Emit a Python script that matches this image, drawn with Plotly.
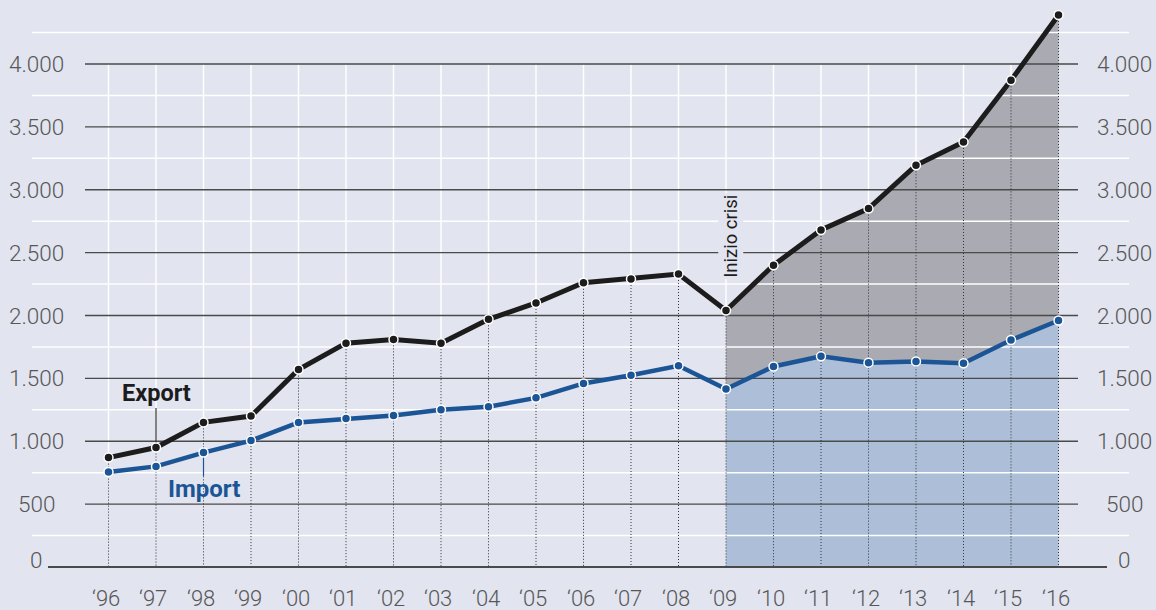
import plotly.graph_objects as go

# ---- data ----
years = list(range(1996, 2017))
year_labels = ["\u2018" + str(y)[2:] for y in years]
export_vals = [870, 950, 1150, 1200, 1570, 1780, 1810, 1780, 1970, 2100, 2260, 2290, 2330,
               2040, 2400, 2680, 2850, 3195, 3380, 3870, 4390]
import_vals = [755, 800, 910, 1005, 1150, 1180, 1205, 1250, 1275, 1345, 1460, 1525, 1600,
               1415, 1595, 1675, 1625, 1635, 1620, 1805, 1960]
major_ticks = [0, 500, 1000, 1500, 2000, 2500, 3000, 3500, 4000]
tick_labels = ["0", "500", "1.000", "1.500", "2.000", "2.500", "3.000", "3.500", "4.000"]
minor_ticks = [250, 750, 1250, 1750, 2250, 2750, 3250, 3750, 4250]
crisis_year = 2009

# ---- layout constants ----
W, H = 1156, 610
X0_PX, STEP_PX = 108.5, 47.5          # pixel of first year, pixels per year
Y0_PX, PX_PER_UNIT = 567, 0.12575     # pixel of y=0, pixels per unit


def xd(px):
    return years[0] + (px - X0_PX) / STEP_PX


def yd(py):
    return (Y0_PX - py) / PX_PER_UNIT


BG = "#e2e4ef"
BLACK = "#1c1c1c"
BLUE = "#1b5596"
GRAY_FILL = "#a9aab2"
BLUE_FILL = "#adbfd8"
TICK_GRAY = "#575757"
FONT = "Roboto"

fig = go.Figure()

# fills from crisis year on
ci = years.index(crisis_year)
fig.add_trace(go.Scatter(x=years[ci:], y=import_vals[ci:], mode="lines", line=dict(width=0),
                         fill="tozeroy", fillcolor=BLUE_FILL, hoverinfo="skip", showlegend=False))
fig.add_trace(go.Scatter(x=years[ci:], y=export_vals[ci:], mode="lines", line=dict(width=0),
                         fill="tonexty", fillcolor=GRAY_FILL, hoverinfo="skip", showlegend=False))

# minor white gridlines
gx, gy = [], []
for v in minor_ticks:
    gx += [xd(32), xd(1129), None]
    gy += [v, v, None]
fig.add_trace(go.Scatter(x=gx, y=gy, mode="lines", line=dict(color="white", width=1.5),
                         hoverinfo="skip", showlegend=False))

# white verticals above the export line
vx, vy = [], []
for yr, e in zip(years, export_vals):
    if e < major_ticks[-1]:
        vx += [yr, yr, None]
        vy += [major_ticks[-1], e, None]
fig.add_trace(go.Scatter(x=vx, y=vy, mode="lines", line=dict(color="white", width=1.5),
                         hoverinfo="skip", showlegend=False))

# major dark gridlines
mx, my = [], []
for v in major_ticks[1:]:
    mx += [xd(85), xd(1078), None]
    my += [v, v, None]
fig.add_trace(go.Scatter(x=mx, y=my, mode="lines", line=dict(color="#4a4a4a", width=1.3),
                         hoverinfo="skip", showlegend=False))

# dotted verticals below the export line
dx, dy = [], []
for yr, e in zip(years, export_vals):
    dx += [yr, yr, None]
    dy += [e, 0, None]
fig.add_trace(go.Scatter(x=dx, y=dy, mode="lines",
                         line=dict(color="#333333", width=1, dash="1px,2px"),
                         hoverinfo="skip", showlegend=False))

# zero baseline
fig.add_trace(go.Scatter(x=[xd(48), xd(1107)], y=[0, 0], mode="lines",
                         line=dict(color="#4a4a4a", width=2), hoverinfo="skip", showlegend=False))

# label connector lines
fig.add_trace(go.Scatter(x=[1997, 1997], y=[export_vals[1], yd(408)], mode="lines",
                         line=dict(color="#333333", width=1.2), hoverinfo="skip", showlegend=False))
fig.add_trace(go.Scatter(x=[1998, 1998], y=[import_vals[2], yd(476)], mode="lines",
                         line=dict(color=BLUE, width=1.2), hoverinfo="skip", showlegend=False))

# data lines
fig.add_trace(go.Scatter(x=years, y=import_vals, mode="lines+markers", name="Import",
                         line=dict(color=BLUE, width=4.5),
                         marker=dict(size=9, color=BLUE, line=dict(color="white", width=1.5)),
                         showlegend=False))
fig.add_trace(go.Scatter(x=years, y=export_vals, mode="lines+markers", name="Export",
                         line=dict(color=BLACK, width=5),
                         marker=dict(size=9, color=BLACK, line=dict(color="white", width=1.5)),
                         showlegend=False))

annotations = []
for v, t in zip(major_ticks, tick_labels):
    yy = v if v > 0 else yd(560)
    for px in (36, 1124):
        annotations.append(dict(x=px / W, xref="paper", y=yy, yref="y", text=t, showarrow=False,
                                xanchor="center", yanchor="middle",
                                font=dict(family=FONT, size=22.5, color=TICK_GRAY, weight=300)))
for yr, t in zip(years, year_labels):
    annotations.append(dict(x=yr - 0.06, y=yd(598), text=t, showarrow=False, xanchor="center",
                            yanchor="middle",
                            font=dict(family=FONT, size=22, color=TICK_GRAY, weight=300)))

annotations.append(dict(x=1997, y=yd(393), text="<b>Export</b>", showarrow=False,
                        font=dict(family=FONT, size=23.5, color=BLACK)))
annotations.append(dict(x=1998, y=yd(489), text="<b>Import</b>", showarrow=False,
                        font=dict(family=FONT, size=24, color=BLUE)))
annotations.append(dict(x=crisis_year + 0.1, y=yd(236), text="Inizio crisi", showarrow=False,
                        textangle=-90, bgcolor=BG, borderpad=1,
                        font=dict(family=FONT, size=18.5, color=BLACK)))

fig.update_layout(
    width=W, height=H,
    margin=dict(l=0, r=0, t=0, b=0),
    paper_bgcolor=BG, plot_bgcolor=BG,
    xaxis=dict(range=[xd(0), xd(W)], visible=False, fixedrange=True),
    yaxis=dict(range=[yd(H), yd(0)], visible=False, fixedrange=True),
    annotations=annotations,
    showlegend=False,
)

fig.write_html("out.html", config={"displayModeBar": False},
               post_script="document.body.style.margin='0px';document.body.style.overflow='hidden';")
